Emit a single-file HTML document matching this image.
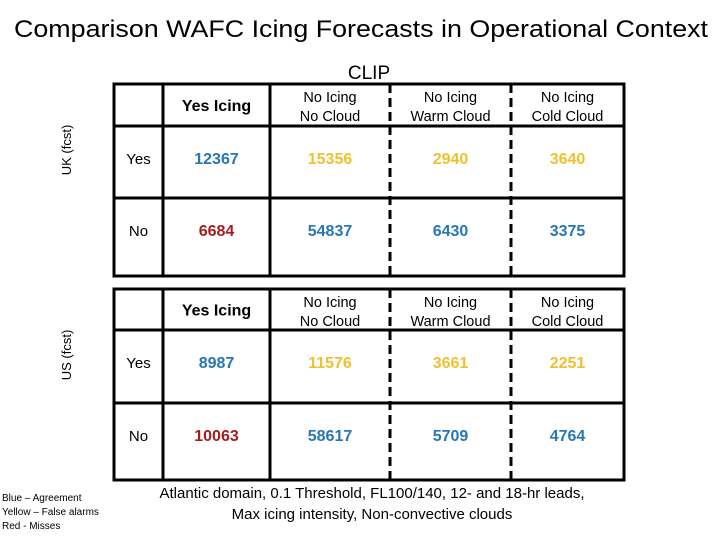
<!DOCTYPE html>
<html><head><meta charset="utf-8"><style>
html,body{margin:0;padding:0;background:#fff;width:720px;height:540px;overflow:hidden}
svg{display:block;font-family:"Liberation Sans",sans-serif}
</style></head><body>
<svg id="s" width="720" height="540">
<text x="14" y="37" font-size="24" textLength="694" lengthAdjust="spacingAndGlyphs">Comparison WAFC Icing Forecasts in Operational Context</text>
<text x="369" y="79" font-size="19" text-anchor="middle">CLIP</text>
<text transform="translate(71,150) rotate(-90)" font-size="13" text-anchor="middle">UK (fcst)</text>
<text transform="translate(71,355) rotate(-90)" font-size="13" text-anchor="middle">US (fcst)</text>
<g font-size="10">
<text x="2" y="501">Blue – Agreement</text>
<text x="2" y="515">Yellow – False alarms</text>
<text x="2" y="529">Red - Misses</text>
</g>
<g font-size="15" text-anchor="middle">
<text x="372" y="498">Atlantic domain, 0.1 Threshold,  FL100/140, 12- and 18-hr leads,</text>
<text x="372" y="519">Max icing intensity, Non-convective clouds</text>
</g>
<g id="tables"></g>
</svg>
<script>
const ukValues = [[12367, 15356, 2940, 3640], [6684, 54837, 6430, 3375]];
const usValues = [[8987, 11576, 3661, 2251], [10063, 58617, 5709, 4764]];
const cellKinds = [["agree", "false", "false", "false"], ["miss", "agree", "agree", "agree"]];
const colHeaders = [["Yes Icing"], ["No Icing", "No Cloud"], ["No Icing", "Warm Cloud"], ["No Icing", "Cold Cloud"]];
const rowLabels = ["Yes", "No"];
const colors = {agree: "#2776b5", false: "#efc12f", miss: "#a51d20"};
const colX = [114, 163, 270, 390, 511, 624];
const NS = "http://www.w3.org/2000/svg";
const g = document.getElementById("tables");
function mk(tag, attrs, parent) {
  const e = document.createElementNS(NS, tag);
  for (const k in attrs) e.setAttribute(k, attrs[k]);
  parent.appendChild(e);
  return e;
}
function drawTable(name, rows, values) {
  const t = mk("g", {}, g);
  
  
  const top = rows[0], bot = rows[3];
  rows.forEach(y => {
    const l = mk("line", {x1: colX[0] - 1.5, x2: colX[5] + 1.5, y1: y, y2: y, stroke: "#000", "stroke-width": 3}, t);
    
    
  });
  colX.forEach((x, i) => {
    const dashed = i === 3 || i === 4;
    const a = {x1: x, x2: x, y1: top, y2: bot, stroke: "#000", "stroke-width": 3};
    if (dashed) a["stroke-dasharray"] = "9 5";
    const l = mk("line", a, t);
    
    
  });
  colHeaders.forEach((h, i) => {
    const cx = (colX[i + 1] + colX[i + 2]) / 2;
    if (h.length === 1) {
      const tx = mk("text", {x: cx, y: (top + rows[1]) / 2 + 6, "font-size": 16, "font-weight": "bold", "text-anchor": "middle"}, t);
      tx.textContent = h[0];
      
      
    } else {
      h.forEach((line, j) => {
        const tx = mk("text", {x: cx, y: top + 18 + j * 19, "font-size": 14.5, "text-anchor": "middle"}, t);
        tx.textContent = line;
        
        
      });
    }
  });
  rowLabels.forEach((r, ri) => {
    const yc = rows[ri + 1] + (ri === 0 ? 38 : 38);
    const rl = mk("text", {x: (colX[0] + colX[1]) / 2, y: yc, "font-size": 15, "text-anchor": "middle"}, t);
    rl.textContent = r;
    
    
    values[ri].forEach((v, ci) => {
      const cx = (colX[ci + 1] + colX[ci + 2]) / 2;
      const tx = mk("text", {x: cx, y: rows[ri + 1] + 38, "font-size": 16, "font-weight": "bold", "text-anchor": "middle", fill: colors[cellKinds[ri][ci]]}, t);
      tx.textContent = v;
      
      
    });
  });
}
drawTable("uk-table", [84, 126, 198, 276], ukValues);
drawTable("us-table", [289, 330, 403, 480], usValues);
</script>
</body></html>
